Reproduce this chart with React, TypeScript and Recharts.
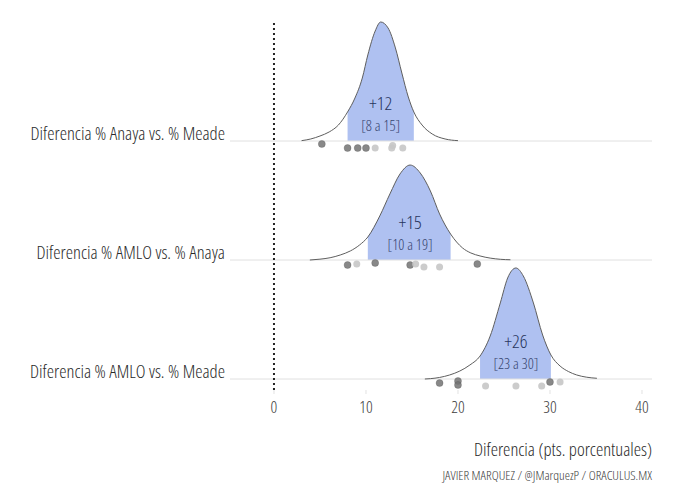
import { ComposedChart, Area, Line, Scatter, XAxis, YAxis, ReferenceLine } from 'recharts';

// rows, top to bottom
const categories = ['Diferencia % Anaya vs. % Meade', 'Diferencia % AMLO vs. % Anaya', 'Diferencia % AMLO vs. % Meade'];
const rowOffsets = [2, 1, 0];
const medianLabels = ['+12', '+15', '+26'];
const intervalLabels = ['[8 a 15]', '[10 a 19]', '[23 a 30]'];
const intervalLow = [8.0, 10.2, 22.4];
const intervalHigh = [15.2, 19.2, 30.1];
const labelX = [11.6, 14.8, 26.3];
const xTicks = [0, 10, 20, 30, 40];

// posterior density (height relative to row spacing)
const anayaMeadeX = [3.0, 4.0, 5.0, 6.0, 7.0, 8.0, 8.8, 9.6, 10.2, 11.0, 11.6, 12.4, 13.2, 13.9, 14.6, 15.2, 16.1, 17.2, 18.6, 20.0];
const anayaMeadeY = [0.003, 0.017, 0.042, 0.076, 0.134, 0.244, 0.361, 0.529, 0.723, 0.924, 1.0, 0.95, 0.782, 0.571, 0.37, 0.244, 0.134, 0.059, 0.017, 0.003];

const amloAnayaX = [3.9, 5.0, 6.1, 7.2, 8.3, 9.3, 10.2, 11.5, 12.6, 13.7, 14.8, 15.9, 17.0, 18.0, 19.2, 20.5, 21.4, 22.4, 24.6, 25.7];
const amloAnayaY = [0, 0.007, 0.019, 0.042, 0.076, 0.126, 0.193, 0.37, 0.555, 0.723, 0.798, 0.731, 0.58, 0.387, 0.218, 0.101, 0.059, 0.034, 0.006, 0.002];

const amloMeadeX = [16.4, 17.0, 18.0, 19.1, 20.2, 21.3, 22.4, 23.5, 24.6, 25.4, 26.3, 27.1, 28.2, 29.2, 30.1, 31.1, 32.0, 32.9, 34.0, 35.1];
const amloMeadeY = [0, 0.003, 0.013, 0.034, 0.067, 0.118, 0.193, 0.361, 0.639, 0.849, 0.933, 0.866, 0.639, 0.37, 0.202, 0.109, 0.063, 0.034, 0.015, 0.006];

// polls: [difference, jitter, darker source]
const anayaMeadePolls = [[5.2, -0.025, 1], [8.0, -0.059, 1], [9.1, -0.059, 1], [10.0, -0.059, 1], [11.0, -0.059, 0], [12.9, -0.038, 0], [12.8, -0.059, 0], [14.0, -0.059, 0]];
const amloAnayaPolls = [[8.0, -0.042, 1], [9.0, -0.034, 0], [11.0, -0.025, 1], [14.8, -0.042, 1], [15.4, -0.034, 0], [16.3, -0.059, 0], [18.0, -0.059, 0], [22.1, -0.034, 1]];
const amloMeadePolls = [[18.0, -0.034, 1], [20.0, -0.017, 1], [20.0, -0.05, 1], [23.0, -0.059, 0], [26.3, -0.059, 0], [29.1, -0.059, 0], [30.0, -0.025, 1], [31.1, -0.025, 0]];

const densX = [anayaMeadeX, amloAnayaX, amloMeadeX];
const densY = [anayaMeadeY, amloAnayaY, amloMeadeY];
const polls = [anayaMeadePolls, amloAnayaPolls, amloMeadePolls];

const FONT = "'Open Sans', sans-serif";
const thin = { fontStretch: 'condensed', fontWeight: 350 } as const;

const ridges = categories.map((name, i) => {
  const off = rowOffsets[i];
  const curve = densX[i].map((x, j) => ({ x, base: off, top: off + densY[i][j] }));
  return {
    name,
    curve,
    band: curve.filter((d) => d.x >= intervalLow[i] - 1e-9 && d.x <= intervalHigh[i] + 1e-9),
    dots: polls[i].map(([x, j, dark]) => ({ x, y: off + j, dark })),
    label: [{ x: labelX[i], y: off, med: medianLabels[i], ci: intervalLabels[i] }],
  };
});

const Dot = (props: any) => {
  const { cx, cy, payload } = props;
  return payload.dark ? (
    <circle cx={cx} cy={cy} r={3.5} fill="#737373" fillOpacity={0.85} stroke="#555" strokeOpacity={0.5} strokeWidth={0.6} />
  ) : (
    <circle cx={cx} cy={cy} r={3.5} fill="#c6c6c6" fillOpacity={0.9} />
  );
};

const RidgeLabel = (props: any) => {
  const { cx, cy, payload } = props;
  return (
    <g fontFamily={FONT} textAnchor="middle" style={thin}>
      <text x={cx} y={cy - 31} fontSize={19} fill="#28365e">{payload.med}</text>
      <text x={cx} y={cy - 10} fontSize={15} fill="#36446e">{payload.ci}</text>
    </g>
  );
};

const CategoryTick = (props: any) => {
  const { y, payload } = props;
  const idx = rowOffsets.indexOf(payload.value);
  return (
    <text x={225} y={y - 1} textAnchor="end" fontSize={18.5} fill="#2a2a2a" fontFamily={FONT} style={thin}>
      {categories[idx]}
    </text>
  );
};

const ValueTick = (props: any) => {
  const { x, payload } = props;
  return (
    <text x={x} y={413} textAnchor="middle" fontSize={16.5} fill="#3c3c3c" fontFamily={FONT} style={thin}>
      {payload.value}
    </text>
  );
};

export default function App() {
  return (
    <div style={{ position: 'absolute', left: 0, top: 0, width: 680, height: 504, background: '#fff' }}>
      <ComposedChart width={680} height={504} margin={{ top: 20, right: 28, bottom: 84, left: 0 }}>
        <XAxis
          type="number"
          dataKey="x"
          domain={[-4.78, 41.09]}
          allowDataOverflow
          ticks={xTicks}
          axisLine={false}
          tickLine={{ stroke: '#e2e2e2' }}
          tickSize={4}
          tick={<ValueTick />}
          height={30}
        />
        <YAxis
          type="number"
          domain={[-0.0924, 3.0168]}
          allowDataOverflow
          ticks={rowOffsets}
          axisLine={false}
          tickLine={false}
          tick={<CategoryTick />}
          width={230}
        />
        {rowOffsets.map((o) => (
          <ReferenceLine key={'b' + o} y={o} stroke="#e0e0e0" strokeWidth={1} />
        ))}
        {ridges.map((r, i) => (
          <Area
            key={'band' + i}
            data={r.band}
            dataKey={(d: any) => [d.base, d.top]}
            type="monotone"
            fill="#afc1f1"
            fillOpacity={1}
            stroke="none"
            isAnimationActive={false}
          />
        ))}
        {ridges.map((r, i) => (
          <Line
            key={'curve' + i}
            data={r.curve}
            dataKey="top"
            type="monotone"
            stroke="#5e5e5e"
            strokeWidth={1}
            dot={false}
            isAnimationActive={false}
          />
        ))}
        <ReferenceLine x={0} stroke="#222" strokeWidth={2} strokeDasharray="2 3" />
        {ridges.map((r, i) => (
          <Scatter key={'dots' + i} data={r.dots} dataKey="y" shape={<Dot />} isAnimationActive={false} />
        ))}
        {ridges.map((r, i) => (
          <Scatter key={'lab' + i} data={r.label} dataKey="y" shape={<RidgeLabel />} isAnimationActive={false} />
        ))}
      </ComposedChart>
      <svg width={680} height={504} style={{ position: 'absolute', left: 0, top: 0, pointerEvents: 'none' }}>
        <text x={652} y={456} textAnchor="end" fontSize={18.5} fill="#2a2a2a" fontFamily={FONT} style={thin}>
          Diferencia (pts. porcentuales)
        </text>
        <text x={652} y={480} textAnchor="end" fontSize={13.3} fill="#404040" fontFamily={FONT} style={thin}>
          JAVIER MARQUEZ / @JMarquezP / ORACULUS.MX
        </text>
      </svg>
    </div>
  );
}
